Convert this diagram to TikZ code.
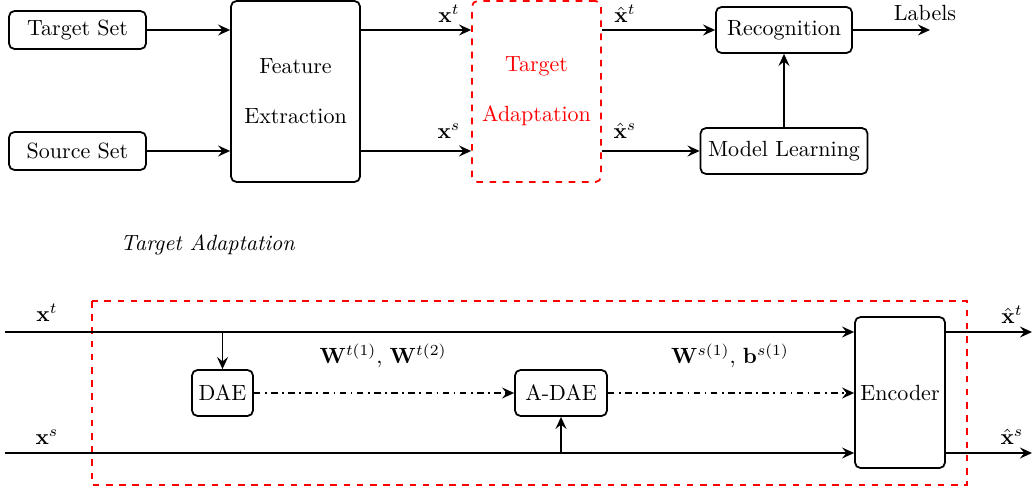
\documentclass[tikz,border=0pt]{standalone}
\usepackage{amsmath}
\usetikzlibrary{arrows.meta}
\def\upx{0.4545pt}
\tikzset{
  blk/.style={draw, thick, rounded corners=2.5pt, inner sep=0pt, align=center},
  redblk/.style={draw=red, thick, dashed, rounded corners=2.5pt, inner sep=0pt, align=center, text=red},
  conn/.style={thick, -{Stealth[length=5.5pt, width=5pt, inset=2pt]}},
  dd/.style={conn, dash dot},
  lbl/.style={inner sep=0pt},
}
\begin{document}
\begin{tikzpicture}[x=\upx, y=-\upx]
\useasboundingbox (0,0) rectangle (1033,493);
% ---------- top ----------
\node[blk, minimum width=137*\upx, minimum height=38*\upx] (ts) at (77.5,30) {Target Set};
\node[blk, minimum width=137*\upx, minimum height=38*\upx] (ss) at (77.5,151) {Source Set};
\node[blk, minimum width=129*\upx, minimum height=181*\upx] (fe) at (295.5,91.5) {Feature\\[10.7pt]Extraction};
\node[redblk, minimum width=129*\upx, minimum height=181*\upx] (ta) at (536.5,91.5) {Target\\[10.7pt]Adaptation};
\node[blk, minimum width=136*\upx, minimum height=46*\upx] (rec) at (784,30) {Recognition};
\node[blk, minimum width=167*\upx, minimum height=46*\upx] (ml) at (784,151) {Model Learning};
\coordinate (lab) at (930,30);

\draw[conn] (ts.east) -- (ts.east -| fe.west);
\draw[conn] (ss.east) -- (ss.east -| fe.west);
\draw[conn] (fe.east |- ts.east) -- (ta.west |- ts.east);
\draw[conn] (fe.east |- ss.east) -- (ta.west |- ss.east);
\draw[conn] (ta.east |- rec.west) -- (rec.west);
\draw[conn] (ta.east |- ml.west) -- (ml.west);
\draw[conn] (ml.north) -- (rec.south);
\draw[conn] (rec.east) -- (lab);

\node[lbl] (lxt) at (449,14) {$\mathbf{x}^t$};
\node[lbl] (lxs) at (449,131) {$\mathbf{x}^s$};
\node[lbl] (lhxt) at (625,14) {$\hat{\mathbf{x}}^t$};
\node[lbl] (lhxs) at (625,131) {$\hat{\mathbf{x}}^s$};
\node[lbl] (labels) at (925,13) {Labels};

\node[lbl] (title) at (208,245) {\textit{Target Adaptation}};

% ---------- bottom ----------
\draw[red, thick, dashed] (92,301) rectangle (967,485);
\node[blk, minimum width=61*\upx, minimum height=46*\upx] (dae) at (222.5,393) {DAE};
\node[blk, minimum width=92*\upx, minimum height=46*\upx] (adae) at (561,393) {A-DAE};
\node[blk, minimum width=90*\upx, minimum height=151*\upx] (enc) at (900,392.5) {Encoder};
\coordinate (xtin) at (5,332);
\coordinate (xsin) at (5,453);
\coordinate (xtout) at (1032,332);
\coordinate (xsout) at (1032,453);

\draw[conn] (xtin) -- (xtin -| enc.west);
\draw[conn] (xsin) -- (xsin -| enc.west);
\draw[conn] (dae.north |- xtin) -- (dae.north);
\draw[conn] (adae.south |- xsin) -- (adae.south);
\draw[dd] (dae.east) -- (adae.west);
\draw[dd] (adae.east) -- (adae.east -| enc.west);
\draw[conn] (enc.east |- xtin) -- (xtout);
\draw[conn] (enc.east |- xsin) -- (xsout);

\node[lbl] (bxt) at (47,313) {$\mathbf{x}^t$};
\node[lbl] (bxs) at (47,437) {$\mathbf{x}^s$};
\node[lbl] (bhxt) at (1012,315) {$\hat{\mathbf{x}}^t$};
\node[lbl] (bhxs) at (1012,437) {$\hat{\mathbf{x}}^s$};
\node[lbl] (wt) at (383,356) {$\mathbf{W}^{t(1)},\,\mathbf{W}^{t(2)}$};
\node[lbl] (ws) at (730,356) {$\mathbf{W}^{s(1)},\,\mathbf{b}^{s(1)}$};
\end{tikzpicture}
\end{document}
